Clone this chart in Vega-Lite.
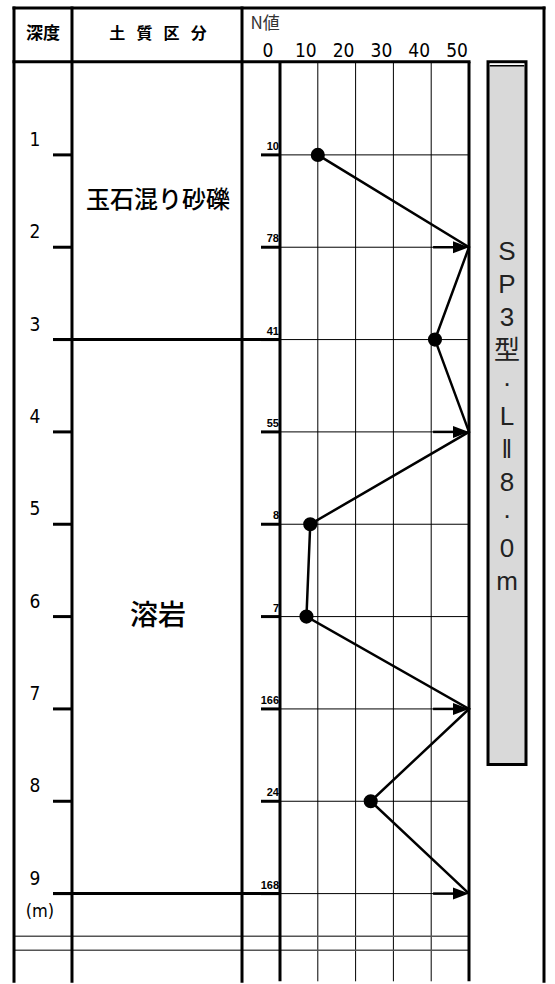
{
  "$schema": "https://vega.github.io/schema/vega-lite/v6.json",
  "width": 555,
  "height": 984,
  "autosize": {"type": "fit", "contains": "padding"},
  "padding": 0,
  "background": "white",
  "config": {"view": {"stroke": null}, "axis": {"disable": true}, "legend": {"disable": true}},
  "datasets": {
    "depths": [
      {"depth": 1, "n": 10, "np": 10},
      {"depth": 2, "n": 78, "np": 50},
      {"depth": 3, "n": 41, "np": 41},
      {"depth": 4, "n": 55, "np": 50},
      {"depth": 5, "n": 8, "np": 8},
      {"depth": 6, "n": 7, "np": 7},
      {"depth": 7, "n": 166, "np": 50},
      {"depth": 8, "n": 24, "np": 24},
      {"depth": 9, "n": 168, "np": 50}
    ],
    "nticks": [{"n": 0}, {"n": 10}, {"n": 20}, {"n": 30}, {"n": 40}, {"n": 50}],
    "soil": [
      {"soil": "玉石混り砂礫", "top": 0, "bottom": 3},
      {"soil": "溶岩", "top": 3, "bottom": 9}
    ],
    "frame": [
      {"xa": -70.37, "xb": 69.84, "ya": -0.591, "yb": -0.591},
      {"xa": -70.37, "xb": 50, "ya": -0.01, "yb": -0.01},
      {"xa": -70.37, "xb": -70.37, "ya": -0.591, "yb": 9.95},
      {"xa": -55.03, "xb": -55.03, "ya": -0.591, "yb": 9.95},
      {"xa": -10.05, "xb": -10.05, "ya": -0.591, "yb": 9.95},
      {"xa": 69.84, "xb": 69.84, "ya": -0.591, "yb": 9.95}
    ],
    "breaks": [{"depth": 9.462}, {"depth": 9.613}],
    "pile": [{"label": "S\nP\n3\n型\n·\nL\n‖\n8\n·\n0\nm", "top": -0.01, "bottom": 7.602}]
  },
  "layer": [
    {
      "data": {"name": "pile"},
      "mark": {"type": "rect", "fill": "#d9d9d9", "stroke": "black", "strokeWidth": 3},
      "encoding": {
        "x": {"datum": 55.03, "type": "quantitative", "scale": {"domain": [-74.074, 72.751], "nice": false, "zero": false}},
        "x2": {"datum": 65.08},
        "y": {"field": "top", "type": "quantitative", "scale": {"domain": [-0.6774, 9.9032], "reverse": true, "nice": false, "zero": false}},
        "y2": {"field": "bottom"}
      }
    },
    {
      "data": {"name": "pile"},
      "mark": {"type": "rule", "stroke": "white", "strokeWidth": 1.5},
      "encoding": {
        "x": {"datum": 55.5, "type": "quantitative", "scale": {"domain": [-74.074, 72.751], "nice": false, "zero": false}},
        "x2": {"datum": 64.6},
        "y": {"datum": 0.019, "type": "quantitative", "scale": {"domain": [-0.6774, 9.9032], "reverse": true, "nice": false, "zero": false}}
      }
    },
    {
      "data": {"name": "pile"},
      "mark": {"type": "rule", "stroke": "black", "strokeWidth": 1.5},
      "encoding": {
        "x": {"datum": 55.5, "type": "quantitative", "scale": {"domain": [-74.074, 72.751], "nice": false, "zero": false}},
        "x2": {"datum": 64.6},
        "y": {"datum": 0.036, "type": "quantitative", "scale": {"domain": [-0.6774, 9.9032], "reverse": true, "nice": false, "zero": false}}
      }
    },
    {
      "data": {"name": "nticks"},
      "transform": [{"filter": "datum.n > 0 && datum.n < 50"}],
      "mark": {"type": "rule", "stroke": "black", "strokeWidth": 1},
      "encoding": {
        "x": {"field": "n", "type": "quantitative", "scale": {"domain": [-74.074, 72.751], "nice": false, "zero": false}},
        "y": {"datum": -0.01, "type": "quantitative", "scale": {"domain": [-0.6774, 9.9032], "reverse": true, "nice": false, "zero": false}},
        "y2": {"datum": 9.95}
      }
    },
    {
      "data": {"name": "depths"},
      "mark": {"type": "rule", "stroke": "black", "strokeWidth": 1},
      "encoding": {
        "x": {"datum": 0, "type": "quantitative", "scale": {"domain": [-74.074, 72.751], "nice": false, "zero": false}},
        "x2": {"datum": 50},
        "y": {"field": "depth", "type": "quantitative", "scale": {"domain": [-0.6774, 9.9032], "reverse": true, "nice": false, "zero": false}}
      }
    },
    {
      "data": {"name": "breaks"},
      "mark": {"type": "rule", "stroke": "#555555", "strokeWidth": 1.5},
      "encoding": {
        "x": {"datum": -70.37, "type": "quantitative", "scale": {"domain": [-74.074, 72.751], "nice": false, "zero": false}},
        "x2": {"datum": 50},
        "y": {"field": "depth", "type": "quantitative", "scale": {"domain": [-0.6774, 9.9032], "reverse": true, "nice": false, "zero": false}}
      }
    },
    {
      "data": {"name": "frame"},
      "mark": {"type": "rule", "stroke": "black", "strokeWidth": 3, "strokeCap": "square"},
      "encoding": {
        "x": {"field": "xa", "type": "quantitative", "scale": {"domain": [-74.074, 72.751], "nice": false, "zero": false}},
        "x2": {"field": "xb"},
        "y": {"field": "ya", "type": "quantitative", "scale": {"domain": [-0.6774, 9.9032], "reverse": true, "nice": false, "zero": false}},
        "y2": {"field": "yb"}
      }
    },
    {
      "data": {"name": "nticks"},
      "transform": [{"filter": "datum.n == 0 || datum.n == 50"}],
      "mark": {"type": "rule", "stroke": "black", "strokeWidth": 3},
      "encoding": {
        "x": {"field": "n", "type": "quantitative", "scale": {"domain": [-74.074, 72.751], "nice": false, "zero": false}},
        "y": {"datum": -0.01, "type": "quantitative", "scale": {"domain": [-0.6774, 9.9032], "reverse": true, "nice": false, "zero": false}},
        "y2": {"datum": 9.95}
      }
    },
    {
      "data": {"name": "depths"},
      "mark": {"type": "rule", "stroke": "black", "strokeWidth": 3},
      "encoding": {
        "x": {"datum": -60.05, "type": "quantitative", "scale": {"domain": [-74.074, 72.751], "nice": false, "zero": false}},
        "x2": {"datum": -55.03},
        "y": {"field": "depth", "type": "quantitative", "scale": {"domain": [-0.6774, 9.9032], "reverse": true, "nice": false, "zero": false}}
      }
    },
    {
      "data": {"name": "depths"},
      "mark": {"type": "rule", "stroke": "black", "strokeWidth": 3},
      "encoding": {
        "x": {"datum": -5.03, "type": "quantitative", "scale": {"domain": [-74.074, 72.751], "nice": false, "zero": false}},
        "x2": {"datum": 0},
        "y": {"field": "depth", "type": "quantitative", "scale": {"domain": [-0.6774, 9.9032], "reverse": true, "nice": false, "zero": false}}
      }
    },
    {
      "data": {"name": "soil"},
      "mark": {"type": "rule", "stroke": "black", "strokeWidth": 3},
      "encoding": {
        "x": {"datum": -60.05, "type": "quantitative", "scale": {"domain": [-74.074, 72.751], "nice": false, "zero": false}},
        "x2": {"datum": 0},
        "y": {"field": "bottom", "type": "quantitative", "scale": {"domain": [-0.6774, 9.9032], "reverse": true, "nice": false, "zero": false}}
      }
    },
    {
      "data": {"name": "depths"},
      "mark": {"type": "text", "font": "Liberation Sans Narrow, DejaVu Sans Condensed, Liberation Sans", "fontSize": 19, "align": "center", "baseline": "alphabetic", "dy": -9, "color": "black"},
      "encoding": {
        "x": {"datum": -64.81, "type": "quantitative", "scale": {"domain": [-74.074, 72.751], "nice": false, "zero": false}},
        "y": {"field": "depth", "type": "quantitative", "scale": {"domain": [-0.6774, 9.9032], "reverse": true, "nice": false, "zero": false}},
        "text": {"field": "depth"}
      }
    },
    {
      "data": {"values": [{"t": "(m)"}]},
      "mark": {"type": "text", "font": "Liberation Sans Narrow, DejaVu Sans Condensed, Liberation Sans", "fontSize": 18, "align": "center", "baseline": "middle", "color": "black"},
      "encoding": {
        "x": {"datum": -63.5, "type": "quantitative", "scale": {"domain": [-74.074, 72.751], "nice": false, "zero": false}},
        "y": {"datum": 9.2, "type": "quantitative", "scale": {"domain": [-0.6774, 9.9032], "reverse": true, "nice": false, "zero": false}},
        "text": {"field": "t"}
      }
    },
    {
      "data": {"values": [{"t": "深度"}]},
      "mark": {"type": "text", "font": "Noto Sans CJK JP", "fontWeight": "bold", "fontSize": 17, "align": "center", "baseline": "middle", "color": "black"},
      "encoding": {
        "x": {"datum": -62.7, "type": "quantitative", "scale": {"domain": [-74.074, 72.751], "nice": false, "zero": false}},
        "y": {"datum": -0.312, "type": "quantitative", "scale": {"domain": [-0.6774, 9.9032], "reverse": true, "nice": false, "zero": false}},
        "text": {"field": "t"}
      }
    },
    {
      "data": {"values": [{"t": "土\u2002\u2009質\u2002\u2009区\u2002\u2009分"}]},
      "mark": {"type": "text", "font": "Noto Sans CJK JP", "fontWeight": "bold", "fontSize": 16, "align": "center", "baseline": "middle", "color": "black"},
      "encoding": {
        "x": {"datum": -32.28, "type": "quantitative", "scale": {"domain": [-74.074, 72.751], "nice": false, "zero": false}},
        "y": {"datum": -0.312, "type": "quantitative", "scale": {"domain": [-0.6774, 9.9032], "reverse": true, "nice": false, "zero": false}},
        "text": {"field": "t"}
      }
    },
    {
      "data": {"values": [{"t": "N値"}]},
      "mark": {"type": "text", "font": "Noto Sans CJK JP", "fontSize": 17, "align": "left", "baseline": "middle", "color": "#333333"},
      "encoding": {
        "x": {"datum": -7.8, "type": "quantitative", "scale": {"domain": [-74.074, 72.751], "nice": false, "zero": false}},
        "y": {"datum": -0.42, "type": "quantitative", "scale": {"domain": [-0.6774, 9.9032], "reverse": true, "nice": false, "zero": false}},
        "text": {"field": "t"}
      }
    },
    {
      "data": {"name": "nticks"},
      "mark": {"type": "text", "font": "Liberation Sans Narrow, DejaVu Sans Condensed, Liberation Sans", "fontSize": 19, "align": "center", "baseline": "middle", "dx": -12, "color": "black"},
      "encoding": {
        "x": {"field": "n", "type": "quantitative", "scale": {"domain": [-74.074, 72.751], "nice": false, "zero": false}},
        "y": {"datum": -0.129, "type": "quantitative", "scale": {"domain": [-0.6774, 9.9032], "reverse": true, "nice": false, "zero": false}},
        "text": {"field": "n"}
      }
    },
    {
      "data": {"name": "soil"},
      "transform": [{"calculate": "(datum.top + datum.bottom) / 2", "as": "mid"}],
      "mark": {"type": "text", "font": "Noto Sans CJK JP", "fontWeight": 500, "align": "center", "baseline": "middle", "color": "black"},
      "encoding": {
        "x": {"datum": -32.28, "type": "quantitative", "scale": {"domain": [-74.074, 72.751], "nice": false, "zero": false}},
        "y": {"field": "mid", "type": "quantitative", "scale": {"domain": [-0.6774, 9.9032], "reverse": true, "nice": false, "zero": false}},
        "text": {"field": "soil"},
        "size": {"condition": {"test": "datum.soil === '溶岩'", "value": 28}, "value": 24}
      }
    },
    {
      "data": {"name": "depths"},
      "mark": {"type": "text", "font": "Liberation Sans", "fontWeight": "bold", "fontSize": 11, "align": "right", "baseline": "alphabetic", "dx": -1, "dy": -5, "color": "black"},
      "encoding": {
        "x": {"datum": 0, "type": "quantitative", "scale": {"domain": [-74.074, 72.751], "nice": false, "zero": false}},
        "y": {"field": "depth", "type": "quantitative", "scale": {"domain": [-0.6774, 9.9032], "reverse": true, "nice": false, "zero": false}},
        "text": {"field": "n"}
      }
    },
    {
      "data": {"name": "pile"},
      "mark": {"type": "text", "font": "Liberation Sans, Noto Sans CJK JP", "fontSize": 26, "align": "center", "baseline": "alphabetic", "lineBreak": "\n", "lineHeight": 33, "color": "#222222"},
      "encoding": {
        "x": {"datum": 60.05, "type": "quantitative", "scale": {"domain": [-74.074, 72.751], "nice": false, "zero": false}},
        "y": {"datum": 2.14, "type": "quantitative", "scale": {"domain": [-0.6774, 9.9032], "reverse": true, "nice": false, "zero": false}},
        "text": {"field": "label"}
      }
    },
    {
      "data": {"name": "depths"},
      "mark": {"type": "line", "color": "black", "strokeWidth": 2.5},
      "encoding": {
        "x": {"field": "np", "type": "quantitative", "scale": {"domain": [-74.074, 72.751], "nice": false, "zero": false}},
        "y": {"field": "depth", "type": "quantitative", "scale": {"domain": [-0.6774, 9.9032], "reverse": true, "nice": false, "zero": false}},
        "order": {"field": "depth"}
      }
    },
    {
      "data": {"name": "depths"},
      "transform": [{"filter": "datum.n < 50"}],
      "mark": {"type": "circle", "color": "black", "size": 200, "opacity": 1},
      "encoding": {
        "x": {"field": "np", "type": "quantitative", "scale": {"domain": [-74.074, 72.751], "nice": false, "zero": false}},
        "y": {"field": "depth", "type": "quantitative", "scale": {"domain": [-0.6774, 9.9032], "reverse": true, "nice": false, "zero": false}}
      }
    },
    {
      "data": {"name": "depths"},
      "transform": [{"filter": "datum.n > 50"}],
      "mark": {"type": "rule", "stroke": "black", "strokeWidth": 2.5},
      "encoding": {
        "x": {"datum": 40.5, "type": "quantitative", "scale": {"domain": [-74.074, 72.751], "nice": false, "zero": false}},
        "x2": {"datum": 47},
        "y": {"field": "depth", "type": "quantitative", "scale": {"domain": [-0.6774, 9.9032], "reverse": true, "nice": false, "zero": false}}
      }
    },
    {
      "data": {"name": "depths"},
      "transform": [{"filter": "datum.n > 50"}],
      "mark": {"type": "point", "shape": "M-2,-0.75L0,0L-2,0.75Z", "filled": true, "color": "black", "size": 256, "opacity": 1, "strokeWidth": 0},
      "encoding": {
        "x": {"field": "np", "type": "quantitative", "scale": {"domain": [-74.074, 72.751], "nice": false, "zero": false}},
        "y": {"field": "depth", "type": "quantitative", "scale": {"domain": [-0.6774, 9.9032], "reverse": true, "nice": false, "zero": false}}
      }
    }
  ]
}
